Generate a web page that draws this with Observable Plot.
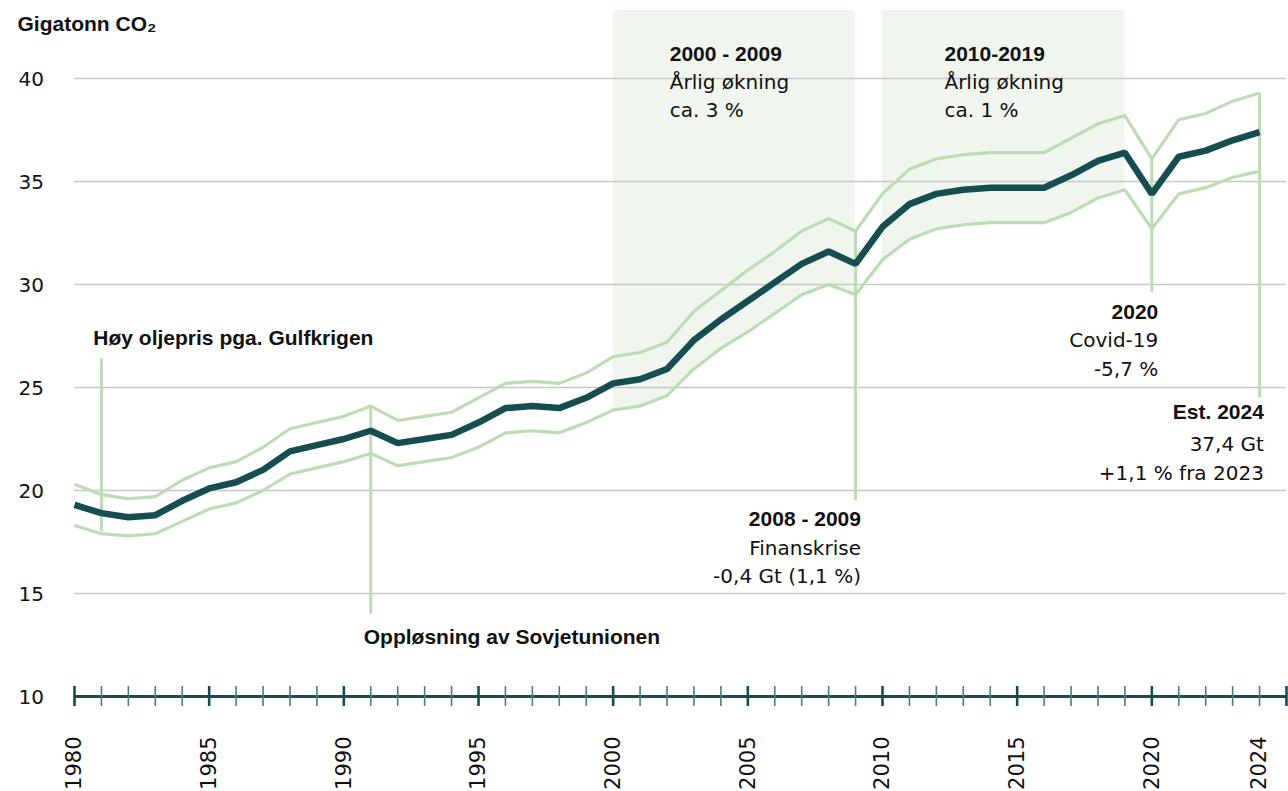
<!DOCTYPE html>
<html>
<head>
<meta charset="utf-8">
<script src="https://cdn.jsdelivr.net/npm/d3@7"></script>
<script src="https://cdn.jsdelivr.net/npm/@observablehq/plot@0.6"></script>
<style>
  body { margin: 0; background: #fff; }
  #chart svg { display: block; }
</style>
</head>
<body>
<div id="chart"></div>
<script>
// ---- Data ----
const years = [1980,1981,1982,1983,1984,1985,1986,1987,1988,1989,1990,1991,1992,1993,1994,1995,1996,1997,1998,1999,
               2000,2001,2002,2003,2004,2005,2006,2007,2008,2009,2010,2011,2012,2013,2014,2015,2016,2017,2018,2019,
               2020,2021,2022,2023,2024];
const emissions = [19.3,18.9,18.7,18.8,19.5,20.1,20.4,21.0,21.9,22.2,22.5,22.9,22.3,22.5,22.7,23.3,24.0,24.1,24.0,24.5,
                   25.2,25.4,25.9,27.3,28.3,29.2,30.1,31.0,31.6,31.0,32.8,33.9,34.4,34.6,34.7,34.7,34.7,35.3,36.0,36.4,
                   34.4,36.2,36.5,37.0,37.4];
const upper = [20.3,19.8,19.6,19.7,20.5,21.1,21.4,22.1,23.0,23.3,23.6,24.1,23.4,23.6,23.8,24.5,25.2,25.3,25.2,25.7,
               26.5,26.7,27.2,28.7,29.7,30.7,31.6,32.6,33.2,32.6,34.4,35.6,36.1,36.3,36.4,36.4,36.4,37.1,37.8,38.2,
               36.1,38.0,38.3,38.9,39.3];
const lower = [18.3,17.9,17.8,17.9,18.5,19.1,19.4,20.0,20.8,21.1,21.4,21.8,21.2,21.4,21.6,22.1,22.8,22.9,22.8,23.3,
               23.9,24.1,24.6,25.9,26.9,27.7,28.6,29.5,30.0,29.5,31.2,32.2,32.7,32.9,33.0,33.0,33.0,33.5,34.2,34.6,
               32.7,34.4,34.7,35.2,35.5];

const yTicks = [10, 15, 20, 25, 30, 35, 40];
const xTickLabels = [1980, 1985, 1990, 1995, 2000, 2005, 2010, 2015, 2020, 2024];
const axisYears = [1980,1981,1982,1983,1984,1985,1986,1987,1988,1989,1990,1991,1992,1993,1994,1995,1996,1997,1998,1999,
                   2000,2001,2002,2003,2004,2005,2006,2007,2008,2009,2010,2011,2012,2013,2014,2015,2016,2017,2018,2019,
                   2020,2021,2022,2023,2024,2025];
const majorYears = [1980, 1985, 1990, 1995, 2000, 2005, 2010, 2015, 2020, 2025];

const periods = [{from: 2000, to: 2009}, {from: 2010, to: 2019}];
const shadeTop = 43.3;

const markers = [
  {year: 1981, from: 18.0, to: 26.4},
  {year: 1991, from: 14.0, to: 24.1},
  {year: 2009, from: 19.5, to: 32.6},
  {year: 2020, from: 29.6, to: 36.1},
  {year: 2024, from: 24.5, to: 39.3}
];

const title = "Gigatonn CO\u2082";

// annotation lines: x (year), y (Gt), text, bold, anchor
const notes = [
  {x: 2002.1, y: 40.87, text: "2000 - 2009", bold: true, anchor: "start"},
  {x: 2002.1, y: 39.49, text: "Årlig økning", bold: false, anchor: "start"},
  {x: 2002.1, y: 38.11, text: "ca. 3 %", bold: false, anchor: "start"},
  {x: 2012.3, y: 40.87, text: "2010-2019", bold: true, anchor: "start"},
  {x: 2012.3, y: 39.49, text: "Årlig økning", bold: false, anchor: "start"},
  {x: 2012.3, y: 38.11, text: "ca. 1 %", bold: false, anchor: "start"},
  {x: 1980.7, y: 27.04, text: "Høy oljepris pga. Gulfkrigen", bold: true, anchor: "start"},
  {x: 1990.74, y: 12.57, text: "Oppløsning av Sovjetunionen", bold: true, anchor: "start"},
  {x: 2009.2, y: 18.30, text: "2008 - 2009", bold: true, anchor: "end"},
  {x: 2009.2, y: 16.89, text: "Finanskrise", bold: false, anchor: "end"},
  {x: 2009.2, y: 15.53, text: "-0,4 Gt (1,1 %)", bold: false, anchor: "end"},
  {x: 2020.24, y: 28.33, text: "2020", bold: true, anchor: "end"},
  {x: 2020.24, y: 26.96, text: "Covid-19", bold: false, anchor: "end"},
  {x: 2020.24, y: 25.57, text: "-5,7 %", bold: false, anchor: "end"},
  {x: 2024.16, y: 23.48, text: "Est. 2024", bold: true, anchor: "end"},
  {x: 2024.16, y: 21.91, text: "37,4 Gt", bold: false, anchor: "end"},
  {x: 2024.16, y: 20.53, text: "+1,1 % fra 2023", bold: false, anchor: "end"}
];

// ---- Build table ----
const rows = years.map((year, i) => ({year, value: emissions[i], upper: upper[i], lower: lower[i]}));

const DARK = "#164d50";
const LIGHT = "#bcdcb3";
const SHADE = "#f0f6ee";
const GRID = "#c8c8c8";
const TEXT = "#111111";
const REG = "DejaVu Sans, sans-serif";
const BOLD = "Liberation Sans, Arial, sans-serif";

const noteMark = (bold, anchor) => Plot.text(notes.filter(d => d.bold === bold && d.anchor === anchor), {
  x: "x", y: "y", text: "text",
  textAnchor: anchor, lineAnchor: "bottom",
  fontSize: bold ? 21 : 20, fontWeight: bold ? 700 : 400,
  fontFamily: bold ? BOLD : REG, fill: TEXT
});

const chart = Plot.plot({
  width: 1288,
  height: 791,
  marginLeft: 74,
  marginRight: 2,
  marginTop: 78,
  marginBottom: 95,
  x: {domain: [1980, 2025], axis: null},
  y: {domain: [10, 40], axis: null},
  style: {fontFamily: REG, background: "#fff", overflow: "visible"},
  marks: [
    // shaded periods
    ...periods.map(p => Plot.areaY(rows.filter(d => d.year >= p.from && d.year <= p.to), {
      x: "year", y1: "lower", y2: () => shadeTop, fill: SHADE, curve: "linear"
    })),
    // grid
    Plot.ruleY(yTicks.filter(t => t > 10), {stroke: GRID, strokeWidth: 1.3}),
    // annotation vertical lines
    Plot.ruleX(markers, {x: "year", y1: "from", y2: "to", stroke: LIGHT, strokeWidth: 3}),
    // uncertainty lines
    Plot.lineY(rows, {x: "year", y: "upper", stroke: LIGHT, strokeWidth: 3.2, strokeLinejoin: "miter", strokeLinecap: "butt"}),
    Plot.lineY(rows, {x: "year", y: "lower", stroke: LIGHT, strokeWidth: 3.2, strokeLinejoin: "miter", strokeLinecap: "butt"}),
    // main series
    Plot.lineY(rows, {x: "year", y: "value", stroke: DARK, strokeWidth: 6.5, strokeLinejoin: "miter", strokeLinecap: "butt"}),
    // bottom axis
    Plot.ruleY([10], {stroke: DARK, strokeWidth: 3}),
    Plot.ruleX(axisYears.filter(y => !majorYears.includes(y)), {x: d => d, y1: () => 10, y2: () => 10,
      insetTop: -10, insetBottom: -10, stroke: "#4d7d7f", strokeWidth: 1.6}),
    Plot.ruleX(majorYears, {x: d => d, y1: () => 10, y2: () => 10,
      insetTop: -10, insetBottom: -10, stroke: DARK, strokeWidth: 2.6}),
    // x tick labels (rotated)
    Plot.text(xTickLabels, {x: d => d, y: () => 10, text: d => String(d), rotate: -90,
      textAnchor: "end", lineAnchor: "middle", dy: 40, fontSize: 21, fill: TEXT, fontFamily: REG}),
    // y tick labels
    Plot.text(yTicks, {x: () => 1980, y: d => d, text: d => String(d), dx: -56, dy: 7.5,
      textAnchor: "start", lineAnchor: "bottom", fontSize: 20, fill: TEXT, fontFamily: REG}),
    // title
    Plot.text([title], {frameAnchor: "top-left", text: d => d, dx: -57, dy: -48,
      textAnchor: "start", lineAnchor: "bottom", fontSize: 21, fontWeight: 700, fontFamily: BOLD, fill: TEXT}),
    // annotations
    noteMark(true, "start"), noteMark(false, "start"),
    noteMark(true, "end"), noteMark(false, "end")
  ]
});

document.getElementById("chart").appendChild(chart);
</script>
</body>
</html>
